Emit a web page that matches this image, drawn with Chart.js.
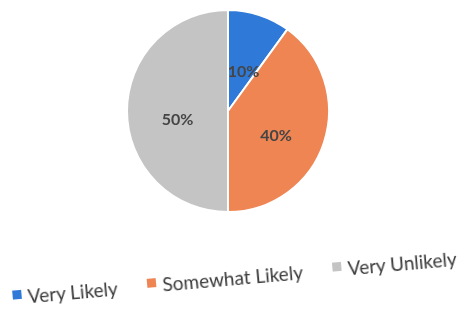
<!DOCTYPE html>
<html>
<head>
<meta charset="utf-8">
<script src="https://cdn.jsdelivr.net/npm/chart.js@4.4.0/dist/chart.umd.min.js"></script>
<style>
  html, body { margin: 0; padding: 0; background: #fff; }
  #wrap { position: relative; width: 466px; height: 322px; }
  #pie { position: absolute; left: 0; top: 0; }
  #legend {
    position: absolute; left: 12px; top: 266px; width: 450px; height: 26px;
    display: flex; align-items: flex-start;
    transform: rotate(-5deg); transform-origin: 50% 50%;
    font-family: Lato, "Open Sans", sans-serif; font-size: 19px; color: #3a3a3a;
    line-height: 24px;
  }
  #legend span.item { display: flex; align-items: flex-start; white-space: nowrap; margin-left: 30px; }
  #legend span.item:first-child { margin-left: 0; }
  #legend span.box { width: 9px; height: 9px; margin: 5px 6px 0 0; display: inline-block; }
</style>
</head>
<body>
<div id="wrap">
  <canvas id="pie" width="466" height="322"></canvas>
  <div id="legend"></div>
</div>
<script>
const labels = ['Very Likely', 'Somewhat Likely', 'Very Unlikely'];
const values = [10, 40, 50];
const colors = ['#2f7ad8', '#ee8553', '#c4c4c4'];

// percent labels inside the slices
const sliceLabels = {
  id: 'sliceLabels',
  afterDatasetsDraw(chart) {
    const ctx = chart.ctx;
    const meta = chart.getDatasetMeta(0);
    const total = values.reduce((a, b) => a + b, 0);
    ctx.save();
    ctx.font = 'bold 16px Lato, "Open Sans", sans-serif';
    ctx.fillStyle = '#454545';
    ctx.textAlign = 'center';
    ctx.textBaseline = 'middle';
    meta.data.forEach((arc, i) => {
      const p = arc.getProps(['x', 'y', 'startAngle', 'endAngle', 'outerRadius'], true);
      const mid = (p.startAngle + p.endAngle) / 2;
      const r = p.outerRadius * 0.5;
      const x = p.x + Math.cos(mid) * r;
      const y = p.y + Math.sin(mid) * r + 9;
      ctx.fillText(Math.round(values[i] / total * 100) + '%', x, y);
    });
    ctx.restore();
  }
};

new Chart(document.getElementById('pie').getContext('2d'), {
  type: 'pie',
  data: {
    labels: labels,
    datasets: [{
      data: values,
      backgroundColor: colors,
      borderColor: '#ffffff',
      borderWidth: 2
    }]
  },
  options: {
    responsive: false,
    animation: false,
    layout: { padding: { top: 9, bottom: 109, left: 0, right: 10 } },
    plugins: { legend: { display: false }, tooltip: { enabled: false } }
  },
  plugins: [sliceLabels]
});

const legend = document.getElementById('legend');
labels.forEach((name, i) => {
  const item = document.createElement('span');
  item.className = 'item';
  item.innerHTML = '<span class="box" style="background:' + colors[i] + '"></span>' + name;
  legend.appendChild(item);
});
</script>
</body>
</html>
